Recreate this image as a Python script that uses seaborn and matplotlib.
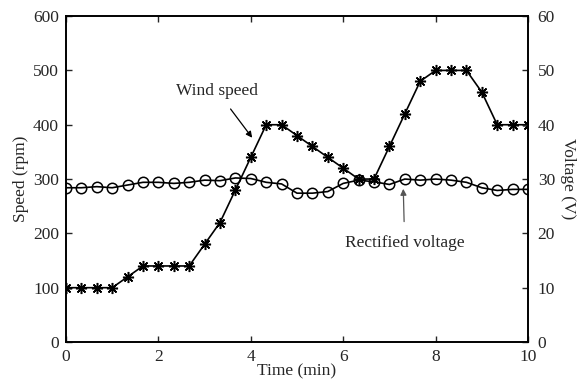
import numpy as np
import pandas as pd
import seaborn as sns
import matplotlib.pyplot as plt

# Time samples (min), every 1/3 min
time_min = [0, 1/3, 2/3, 1, 4/3, 5/3, 2, 7/3, 8/3, 3, 10/3, 11/3, 4, 13/3, 14/3, 5,
            16/3, 17/3, 6, 19/3, 20/3, 7, 22/3, 23/3, 8, 25/3, 26/3, 9, 28/3, 29/3, 10]

wind_speed = [100, 100, 100, 100, 120, 140, 140, 140, 140, 180, 220, 280, 340, 400, 400, 380,
              360, 340, 320, 300, 300, 360, 420, 480, 500, 500, 500, 460, 400, 400, 400]

voltage = [28.4, 28.4, 28.6, 28.4, 28.9, 29.4, 29.4, 29.2, 29.4, 29.8, 29.7, 30.2, 30.1, 29.4, 29.1, 27.4,
           27.4, 27.7, 29.2, 29.8, 29.5, 29.0, 30.0, 29.8, 30.0, 29.8, 29.4, 28.4, 27.9, 28.1, 28.1]

df = pd.DataFrame({"Time": time_min, "Speed": wind_speed, "Voltage": voltage})

sns.set_style("ticks")
plt.rcParams["font.family"] = ["Liberation Serif", "DejaVu Serif"]
plt.rcParams["font.size"] = 12.5

fig = plt.figure(figsize=(5.81, 3.83), dpi=100)
ax = fig.add_axes([0.1136, 0.107, 0.7952, 0.851])
ax2 = ax.twinx()

sns.lineplot(data=df, x="Time", y="Speed", ax=ax, color="black", lw=1.2,
             marker=(8, 2, 0), markersize=8, markeredgewidth=1.1, markeredgecolor="black")
sns.lineplot(data=df, x="Time", y="Voltage", ax=ax2, color="black", lw=1.2,
             marker="o", markersize=7.5, markerfacecolor="none",
             markeredgewidth=1.1, markeredgecolor="black")

ax.set_xlim(0, 10)
ax.set_ylim(0, 600)
ax2.set_ylim(0, 60)
ax.set_xticks([0, 2, 4, 6, 8, 10])
ax.set_yticks(range(0, 601, 100))
ax2.set_yticks(range(0, 61, 10))

ax.set_xlabel("Time (min)", labelpad=-1)
ax.set_ylabel("Speed (rpm)", labelpad=3)
ax2.set_ylabel("Voltage (V)", rotation=270, labelpad=15)

ax.tick_params(axis="x", direction="in", top=True, length=4.5, width=1, pad=5)
ax.tick_params(axis="y", direction="in", length=4.5, width=1, pad=5)
ax2.tick_params(axis="y", direction="in", length=4.5, width=1, pad=7)
for a in (ax, ax2):
    for s in a.spines.values():
        s.set_linewidth(1.2)
        s.set_color("black")

ax.annotate("Wind speed", xy=(4.03, 376), xytext=(3.27, 462), ha="center", va="center",
            arrowprops=dict(arrowstyle="-|>", color="black", lw=0.9, mutation_scale=9,
                            shrinkA=6, shrinkB=0))
ax2.annotate("Rectified voltage", xy=(7.3, 28.2), xytext=(7.33, 18.3), ha="center", va="center",
             arrowprops=dict(arrowstyle="-|>", color="#555555", lw=0.9, mutation_scale=9,
                             shrinkA=7, shrinkB=0))

fig.savefig("out.png", dpi=100)
